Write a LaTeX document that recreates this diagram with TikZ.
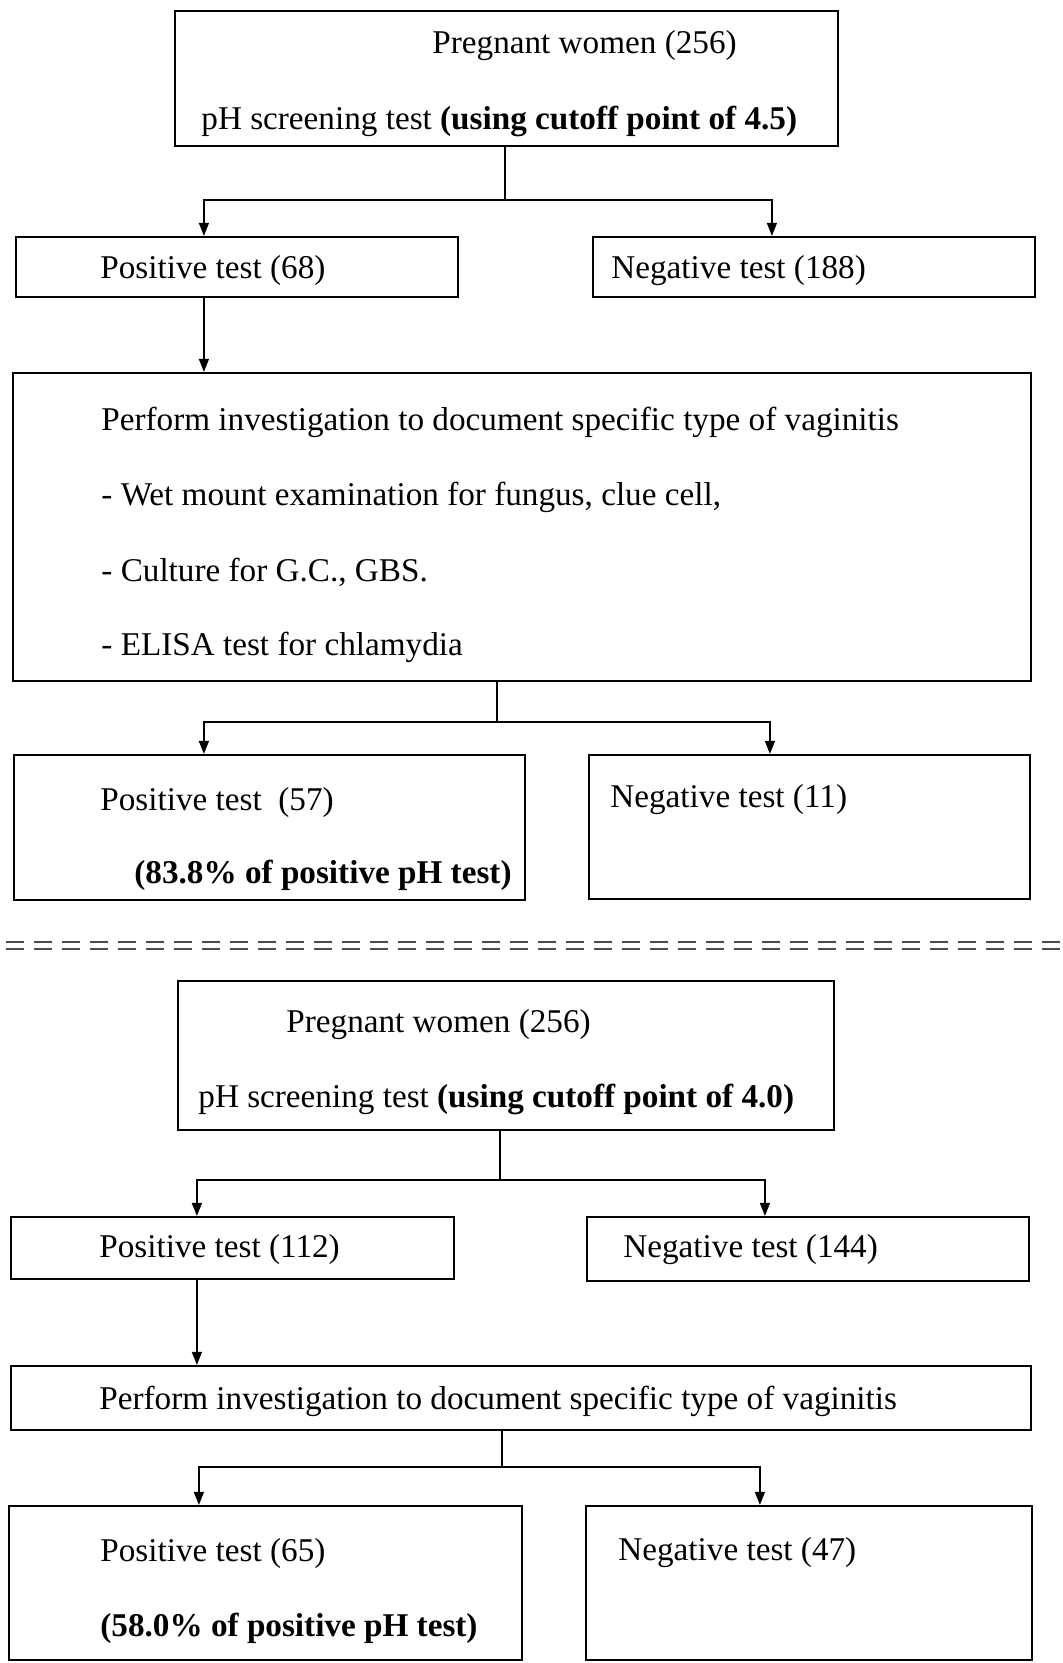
\documentclass[tikz,border=0pt]{standalone}
\usepackage{fontspec}
\setmainfont{Liberation Serif}
\usetikzlibrary{arrows.meta,fit,calc}

\begin{document}
\begin{tikzpicture}[x=0.5pt,y=-0.5pt,>={Triangle[length=6.5pt,width=5pt]},
  every node/.style={font=\fontsize{16.6}{20}\selectfont},
  box/.style={draw,line width=1.1pt,inner sep=0pt},
  lbl/.style={anchor=west,inner sep=0pt,yshift=-1.5pt},
  link/.style={line width=0.7pt},
  sep/.style={black!70,line width=1.3pt,dash pattern=on 9pt off 5pt}]
\useasboundingbox (0,0) rectangle (1063,1663);
% first scheme, cutoff 4.5
\node[box,fit={(175,11) (838,146)}] (top1) {};
\node[lbl] (top1a) at (432,43) {Pregnant women (256)};
\node[lbl] (top1b) at (201,118) {pH screening test \textbf{(using cutoff point of 4.5)}};
\node[box,fit={(16,237) (458,297)}] (pos1) {};
\node[lbl] (pos1a) at (100,268) {Positive test (68)};
\node[box,fit={(593,237) (1035,297)}] (neg1) {};
\node[lbl] (neg1a) at (611,268) {Negative test (188)};
\node[box,fit={(13,373) (1031,681)}] (inv1) {};
\node[lbl] (inv1a) at (101,419) {Perform investigation to document specific type of vaginitis};
\node[lbl] (inv1b) at (101,494) {- Wet mount examination for fungus, clue cell,};
\node[lbl] (inv1c) at (101,569) {- Culture for G.C., GBS.};
\node[lbl] (inv1d) at (101,644) {- ELISA test for chlamydia};
\node[box,fit={(14,755) (525,900)}] (pos2) {};
\node[lbl] (pos2a) at (100,800) {Positive test\ \ (57)};
\node[lbl] (pos2b) at (134,872) {\textbf{(83.8\% of positive pH test)}};
\node[box,fit={(589,755) (1030,899)}] (neg2) {};
\node[lbl] (neg2a) at (610,797) {Negative test (11)};
\coordinate (j1) at (505,200);
\draw[link] (top1.south -| j1) -- (j1);
\draw[link,->] (j1) -| ($(pos1.north west)+(189,0)$);
\draw[link,->] (j1) -| ($(neg1.north west)+(180,0)$);
\draw[link,->] ($(pos1.south west)+(189,0)$) coordinate (a1) -- (a1 |- inv1.north);
\coordinate (j2) at (497,722);
\draw[link] (inv1.south -| j2) -- (j2);
\draw[link,->] (j2) -| ($(pos2.north west)+(191,0)$);
\draw[link,->] (j2) -| ($(neg2.north west)+(182,0)$);
% separator
\draw[sep] (6,942) -- (1063,942);
\draw[sep] (6,949) -- (1063,949);
% second scheme, cutoff 4.0
\node[box,fit={(178,981) (834,1130)}] (top2) {};
\node[lbl] (top2a) at (286,1022) {Pregnant women (256)};
\node[lbl] (top2b) at (198,1096) {pH screening test \textbf{(using cutoff point of 4.0)}};
\node[box,fit={(11,1217) (454,1279)}] (pos3) {};
\node[lbl] (pos3a) at (99,1247) {Positive test (112)};
\node[box,fit={(587,1217) (1029,1281)}] (neg3) {};
\node[lbl] (neg3a) at (623,1247) {Negative test (144)};
\node[box,fit={(11,1366) (1031,1430)}] (inv2) {};
\node[lbl] (inv2a) at (99,1398) {Perform investigation to document specific type of vaginitis};
\node[box,fit={(9,1506) (522,1660)}] (pos4) {};
\node[lbl] (pos4a) at (100,1550) {Positive test (65)};
\node[lbl] (pos4b) at (100,1625) {\textbf{(58.0\% of positive pH test)}};
\node[box,fit={(586,1506) (1032,1660)}] (neg4) {};
\node[lbl] (neg4a) at (618,1550) {Negative test (47)};
\coordinate (j3) at (500,1180);
\draw[link] (top2.south -| j3) -- (j3);
\draw[link,->] (j3) -| ($(pos3.north west)+(187,0)$);
\draw[link,->] (j3) -| ($(neg3.north west)+(179,0)$);
\draw[link,->] ($(pos3.south west)+(187,0)$) coordinate (a3) -- (a3 |- inv2.north);
\coordinate (j4) at (502,1467);
\draw[link] (inv2.south -| j4) -- (j4);
\draw[link,->] (j4) -| ($(pos4.north west)+(191,0)$);
\draw[link,->] (j4) -| ($(neg4.north west)+(175,0)$);
\end{tikzpicture}
\end{document}
